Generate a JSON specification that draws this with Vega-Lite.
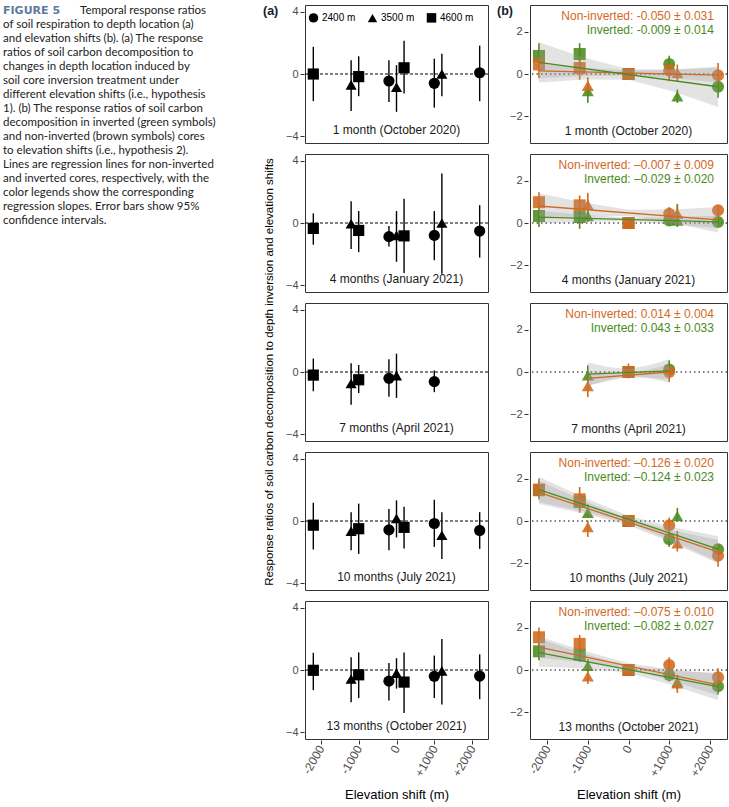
{
  "$schema": "https://vega.github.io/schema/vega-lite/v6.json",
  "padding": {"left": 3, "top": 4, "right": 0, "bottom": 0},
  "background": "white",
  "config": {
    "font": "Liberation Sans",
    "view": {"stroke": "#333333", "strokeWidth": 1},
    "axis": {"grid": false, "domain": false, "tickColor": "#333333", "tickSize": 4, "labelColor": "#4d4d4d", "labelFontSize": 11, "labelFont": "Liberation Sans", "titleFont": "Liberation Sans", "titleFontWeight": "normal", "titleColor": "black", "labelPadding": 2}
  },
  "spacing": 20,
  "hconcat": [
    {
      "width": 240,
      "height": 225,
      "view": {"stroke": null},
      "data": {"values": [{"fig": "FIGURE 5", "head": "Temporal response ratios", "body": ["of soil respiration to depth location (a)", "and elevation shifts (b). (a) The response", "ratios of soil carbon decomposition to", "changes in depth location induced by", "soil core inversion treatment under", "different elevation shifts (i.e., hypothesis", "1). (b) The response ratios of soil carbon", "decomposition in inverted (green symbols)", "and non-inverted (brown symbols) cores", "to elevation shifts (i.e., hypothesis 2).", "Lines are regression lines for non-inverted", "and inverted cores, respectively, with the", "color legends show the corresponding", "regression slopes. Error bars show 95%", "confidence intervals."]}]},
      "layer": [
        {
          "mark": {"type": "text", "align": "left", "baseline": "top", "font": "DejaVu Sans", "fontSize": 11, "fontWeight": "bold", "color": "#5b7b9b"},
          "encoding": {
            "x": {"datum": 0, "type": "quantitative", "scale": {"domain": [0, 1]}, "axis": null},
            "y": {"datum": 1, "type": "quantitative", "scale": {"domain": [0, 1]}, "axis": null},
            "text": {"field": "fig"}
          }
        },
        {
          "mark": {"type": "text", "align": "left", "baseline": "top", "font": "Lato", "fontSize": 11.5, "color": "#222222", "dx": 77},
          "encoding": {
            "x": {"datum": 0, "type": "quantitative"},
            "y": {"datum": 1, "type": "quantitative"},
            "text": {"field": "head"}
          }
        },
        {
          "mark": {"type": "text", "align": "left", "baseline": "top", "font": "Lato", "fontSize": 11.5, "color": "#222222", "dy": 14, "lineHeight": 14},
          "encoding": {
            "x": {"datum": 0, "type": "quantitative"},
            "y": {"datum": 1, "type": "quantitative"},
            "text": {"field": "body"}
          }
        }
      ]
    },
    {
      "spacing": 8,
      "resolve": {"scale": {"shape": "independent", "color": "independent"}, "legend": {"shape": "independent", "color": "independent"}},
      "hconcat": [
        {
          "data": {"values": [
            {"m": "1 month (October 2020)", "k": "label"},
            {"m": "4 months (January 2021)", "k": "label"},
            {"m": "7 months (April 2021)", "k": "label"},
            {"m": "10 months (July 2021)", "k": "label"},
            {"m": "13 months (October 2021)", "k": "label"},
            {"m": "1 month (October 2020)", "k": "p", "x": -2200, "e": "4600 m", "v": 0.0, "lo": -1.75, "hi": 1.75},
            {"m": "1 month (October 2020)", "k": "p", "x": -1200, "e": "3500 m", "v": -0.7, "lo": -2.38, "hi": 0.88},
            {"m": "1 month (October 2020)", "k": "p", "x": -1000, "e": "4600 m", "v": -0.17, "lo": -1.43, "hi": 1.14},
            {"m": "1 month (October 2020)", "k": "p", "x": -200, "e": "2400 m", "v": -0.45, "lo": -1.8, "hi": 0.88},
            {"m": "1 month (October 2020)", "k": "p", "x": 0, "e": "3500 m", "v": -0.85, "lo": -2.44, "hi": 0.57},
            {"m": "1 month (October 2020)", "k": "p", "x": 200, "e": "4600 m", "v": 0.4, "lo": -1.26, "hi": 2.15},
            {"m": "1 month (October 2020)", "k": "p", "x": 1000, "e": "2400 m", "v": -0.6, "lo": -2.17, "hi": 0.99},
            {"m": "1 month (October 2020)", "k": "p", "x": 1200, "e": "3500 m", "v": 0.0, "lo": -1.43, "hi": 1.3},
            {"m": "1 month (October 2020)", "k": "p", "x": 2200, "e": "2400 m", "v": 0.08, "lo": -1.75, "hi": 1.83},
            {"m": "4 months (January 2021)", "k": "p", "x": -2200, "e": "4600 m", "v": -0.35, "lo": -1.4, "hi": 0.62},
            {"m": "4 months (January 2021)", "k": "p", "x": -1200, "e": "3500 m", "v": -0.05, "lo": -1.67, "hi": 1.4},
            {"m": "4 months (January 2021)", "k": "p", "x": -1000, "e": "4600 m", "v": -0.48, "lo": -1.88, "hi": 0.77},
            {"m": "4 months (January 2021)", "k": "p", "x": -200, "e": "2400 m", "v": -0.88, "lo": -1.52, "hi": -0.2},
            {"m": "4 months (January 2021)", "k": "p", "x": 0, "e": "3500 m", "v": -0.8, "lo": -2.5, "hi": 0.77},
            {"m": "4 months (January 2021)", "k": "p", "x": 200, "e": "4600 m", "v": -0.83, "lo": -3.23, "hi": 1.56},
            {"m": "4 months (January 2021)", "k": "p", "x": 1000, "e": "2400 m", "v": -0.8, "lo": -2.4, "hi": 0.77},
            {"m": "4 months (January 2021)", "k": "p", "x": 1200, "e": "3500 m", "v": 0.0, "lo": -3.27, "hi": 3.19},
            {"m": "4 months (January 2021)", "k": "p", "x": 2200, "e": "2400 m", "v": -0.52, "lo": -2.23, "hi": 1.15},
            {"m": "7 months (April 2021)", "k": "p", "x": -2200, "e": "4600 m", "v": -0.2, "lo": -1.24, "hi": 0.87},
            {"m": "7 months (April 2021)", "k": "p", "x": -1200, "e": "3500 m", "v": -0.74, "lo": -2.12, "hi": 0.56},
            {"m": "7 months (April 2021)", "k": "p", "x": -1000, "e": "4600 m", "v": -0.5, "lo": -1.36, "hi": 0.45},
            {"m": "7 months (April 2021)", "k": "p", "x": -200, "e": "2400 m", "v": -0.41, "lo": -1.6, "hi": 0.82},
            {"m": "7 months (April 2021)", "k": "p", "x": 0, "e": "3500 m", "v": -0.23, "lo": -1.67, "hi": 1.18},
            {"m": "7 months (April 2021)", "k": "p", "x": 1000, "e": "2400 m", "v": -0.62, "lo": -1.3, "hi": 0.1},
            {"m": "10 months (July 2021)", "k": "p", "x": -2200, "e": "4600 m", "v": -0.27, "lo": -1.84, "hi": 1.18},
            {"m": "10 months (July 2021)", "k": "p", "x": -1200, "e": "3500 m", "v": -0.65, "lo": -1.88, "hi": 0.57},
            {"m": "10 months (July 2021)", "k": "p", "x": -1000, "e": "4600 m", "v": -0.5, "lo": -2.12, "hi": 1.12},
            {"m": "10 months (July 2021)", "k": "p", "x": -200, "e": "2400 m", "v": -0.57, "lo": -1.88, "hi": 0.78},
            {"m": "10 months (July 2021)", "k": "p", "x": 0, "e": "3500 m", "v": 0.16, "lo": -1.06, "hi": 1.33},
            {"m": "10 months (July 2021)", "k": "p", "x": 200, "e": "4600 m", "v": -0.41, "lo": -1.78, "hi": 0.92},
            {"m": "10 months (July 2021)", "k": "p", "x": 1000, "e": "2400 m", "v": -0.16, "lo": -1.67, "hi": 1.37},
            {"m": "10 months (July 2021)", "k": "p", "x": 1200, "e": "3500 m", "v": -0.92, "lo": -2.45, "hi": 0.57},
            {"m": "10 months (July 2021)", "k": "p", "x": 2200, "e": "2400 m", "v": -0.61, "lo": -1.8, "hi": 0.57},
            {"m": "13 months (October 2021)", "k": "p", "x": -2200, "e": "4600 m", "v": -0.02, "lo": -1.3, "hi": 1.11},
            {"m": "13 months (October 2021)", "k": "p", "x": -1200, "e": "3500 m", "v": -0.58, "lo": -2.08, "hi": 0.82},
            {"m": "13 months (October 2021)", "k": "p", "x": -1000, "e": "4600 m", "v": -0.31, "lo": -1.81, "hi": 1.13},
            {"m": "13 months (October 2021)", "k": "p", "x": -200, "e": "2400 m", "v": -0.72, "lo": -1.96, "hi": 0.45},
            {"m": "13 months (October 2021)", "k": "p", "x": 0, "e": "3500 m", "v": -0.2, "lo": -1.2, "hi": 0.76},
            {"m": "13 months (October 2021)", "k": "p", "x": 200, "e": "4600 m", "v": -0.78, "lo": -2.78, "hi": 1.13},
            {"m": "13 months (October 2021)", "k": "p", "x": 1000, "e": "2400 m", "v": -0.41, "lo": -1.81, "hi": 0.93},
            {"m": "13 months (October 2021)", "k": "p", "x": 1200, "e": "3500 m", "v": -0.06, "lo": -2.23, "hi": 2.0},
            {"m": "13 months (October 2021)", "k": "p", "x": 2200, "e": "2400 m", "v": -0.39, "lo": -1.88, "hi": 1.01}
          ]},
          "title": {"text": "(a)", "anchor": "start", "frame": "group", "offset": -13, "dx": -42, "fontSize": 12.5, "fontWeight": "bold", "color": "#1a1a2e"},
          "spacing": 9,
          "facet": {"row": {"field": "m", "type": "nominal", "sort": ["1 month (October 2020)", "4 months (January 2021)", "7 months (April 2021)", "10 months (July 2021)", "13 months (October 2021)"], "title": "Response ratios of soil carbon decomposition to depth inversion and elevation shifts", "header": {"labels": false, "labelPadding": 0, "titleFont": "Liberation Sans", "titleFontSize": 11.5, "titleFontWeight": "normal", "titleColor": "black", "titlePadding": 0}}},
          "spec": {
            "width": 183,
            "height": 138,
            "layer": [
              {
                "transform": [{"filter": "datum.k == 'label'"}],
                "mark": {"type": "rule", "color": "black", "strokeWidth": 1, "strokeDash": [3, 2]},
                "encoding": {"y": {"datum": 0, "type": "quantitative", "scale": {"domain": [-4.45, 4.45], "nice": false, "zero": false}}}
              },
              {
                "transform": [{"filter": "datum.k == 'p'"}],
                "mark": {"type": "rule", "color": "black", "strokeWidth": 1.4},
                "encoding": {
                  "x": {"field": "x", "type": "quantitative", "scale": {"domain": [-2420, 2420], "nice": false, "zero": false}, "axis": {"values": [-2000, -1000, 0, 1000, 2000], "labelExpr": "datum.value > 0 ? '+' + datum.value : '' + datum.value", "labelAngle": -60, "labelAlign": "right", "labelBaseline": "middle", "labelFontSize": 12, "title": "Elevation shift (m)", "titleFontSize": 13, "titlePadding": 10}},
                  "y": {"field": "lo", "type": "quantitative", "axis": {"values": [-4, -2, 0, 2, 4], "title": null}},
                  "y2": {"field": "hi"}
                }
              },
              {
                "transform": [{"filter": "datum.k == 'p'"}],
                "mark": {"type": "point", "filled": true, "size": 125, "color": "black", "opacity": 1},
                "encoding": {
                  "x": {"field": "x", "type": "quantitative"},
                  "y": {"field": "v", "type": "quantitative", "axis": {"title": null}},
                  "shape": {"field": "e", "type": "nominal", "scale": {"domain": ["2400 m", "3500 m", "4600 m"], "range": ["circle", "triangle-up", "square"]}, "legend": {"orient": "none", "legendX": 3, "legendY": 7, "direction": "horizontal", "title": null, "labelFontSize": 10, "labelColor": "black", "labelFont": "Liberation Sans", "symbolFillColor": "black", "symbolStrokeColor": "black", "symbolSize": 90, "columnPadding": 8, "labelOffset": 3, "padding": 0}}
                }
              },
              {
                "transform": [{"filter": "datum.k == 'label'"}],
                "mark": {"type": "text", "fontSize": 12, "color": "#1a1a1a", "baseline": "middle"},
                "encoding": {
                  "x": {"datum": 0, "type": "quantitative"},
                  "y": {"datum": -3.6, "type": "quantitative"},
                  "text": {"field": "m"}
                }
              }
            ]
          }
        },
        {
          "data": {"values": [
            {"m": "1 month (October 2020)", "k": "label"},
            {"m": "4 months (January 2021)", "k": "label"},
            {"m": "7 months (April 2021)", "k": "label"},
            {"m": "10 months (July 2021)", "k": "label"},
            {"m": "13 months (October 2021)", "k": "label"},
            {"m": "1 month (October 2020)", "k": "s", "t": "N", "s": "Non-inverted: -0.050 ± 0.031"},
            {"m": "1 month (October 2020)", "k": "s", "t": "I", "s": "Inverted: -0.009 ± 0.014"},
            {"m": "4 months (January 2021)", "k": "s", "t": "N", "s": "Non-inverted: –0.007 ± 0.009"},
            {"m": "4 months (January 2021)", "k": "s", "t": "I", "s": "Inverted: –0.029 ± 0.020"},
            {"m": "7 months (April 2021)", "k": "s", "t": "N", "s": "Non-inverted: 0.014 ± 0.004"},
            {"m": "7 months (April 2021)", "k": "s", "t": "I", "s": "Inverted: 0.043 ± 0.033"},
            {"m": "10 months (July 2021)", "k": "s", "t": "N", "s": "Non-inverted: –0.126 ± 0.020"},
            {"m": "10 months (July 2021)", "k": "s", "t": "I", "s": "Inverted: –0.124 ± 0.023"},
            {"m": "13 months (October 2021)", "k": "s", "t": "N", "s": "Non-inverted: –0.075 ± 0.010"},
            {"m": "13 months (October 2021)", "k": "s", "t": "I", "s": "Inverted: –0.082 ± 0.027"},

            {"m": "1 month (October 2020)", "k": "p", "t": "I", "x": -2200, "e": "4600 m", "v": 0.85, "lo": 0.2, "hi": 1.45},
            {"m": "1 month (October 2020)", "k": "p", "t": "I", "x": -1200, "e": "4600 m", "v": 0.94, "lo": 0.44, "hi": 1.45},
            {"m": "1 month (October 2020)", "k": "p", "t": "I", "x": -1000, "e": "3500 m", "v": -0.8, "lo": -1.36, "hi": -0.42},
            {"m": "1 month (October 2020)", "k": "p", "t": "I", "x": 0, "e": "4600 m", "v": 0, "lo": -0.15, "hi": 0.15},
            {"m": "1 month (October 2020)", "k": "p", "t": "I", "x": 0, "e": "3500 m", "v": 0, "lo": -0.15, "hi": 0.15},
            {"m": "1 month (October 2020)", "k": "p", "t": "I", "x": 1000, "e": "2400 m", "v": 0.47, "lo": 0.05, "hi": 0.86},
            {"m": "1 month (October 2020)", "k": "p", "t": "I", "x": 1200, "e": "3500 m", "v": -1.05, "lo": -1.36, "hi": -0.73},
            {"m": "1 month (October 2020)", "k": "p", "t": "I", "x": 2200, "e": "2400 m", "v": -0.6, "lo": -1.12, "hi": -0.22},
            {"m": "1 month (October 2020)", "k": "p", "t": "N", "x": -2200, "e": "4600 m", "v": 0.45, "lo": -0.2, "hi": 1.1},
            {"m": "1 month (October 2020)", "k": "p", "t": "N", "x": -1200, "e": "4600 m", "v": 0.28, "lo": -0.27, "hi": 0.9},
            {"m": "1 month (October 2020)", "k": "p", "t": "N", "x": -1000, "e": "3500 m", "v": -0.55, "lo": -1.05, "hi": -0.15},
            {"m": "1 month (October 2020)", "k": "p", "t": "N", "x": 0, "e": "4600 m", "v": 0, "lo": -0.2, "hi": 0.2},
            {"m": "1 month (October 2020)", "k": "p", "t": "N", "x": 0, "e": "3500 m", "v": 0, "lo": -0.2, "hi": 0.2},
            {"m": "1 month (October 2020)", "k": "p", "t": "N", "x": 1000, "e": "2400 m", "v": 0.17, "lo": -0.34, "hi": 0.75},
            {"m": "1 month (October 2020)", "k": "p", "t": "N", "x": 1200, "e": "3500 m", "v": 0.05, "lo": -0.34, "hi": 0.44},
            {"m": "1 month (October 2020)", "k": "p", "t": "N", "x": 2200, "e": "2400 m", "v": -0.06, "lo": -0.5, "hi": 0.52},

            {"m": "4 months (January 2021)", "k": "p", "t": "I", "x": -2200, "e": "4600 m", "v": 0.33, "lo": -0.19, "hi": 0.67},
            {"m": "4 months (January 2021)", "k": "p", "t": "I", "x": -1200, "e": "4600 m", "v": 0.28, "lo": -0.27, "hi": 0.75},
            {"m": "4 months (January 2021)", "k": "p", "t": "I", "x": -1000, "e": "3500 m", "v": 0.33, "lo": 0.05, "hi": 0.67},
            {"m": "4 months (January 2021)", "k": "p", "t": "I", "x": 0, "e": "4600 m", "v": 0, "lo": -0.15, "hi": 0.15},
            {"m": "4 months (January 2021)", "k": "p", "t": "I", "x": 0, "e": "3500 m", "v": 0, "lo": -0.15, "hi": 0.15},
            {"m": "4 months (January 2021)", "k": "p", "t": "I", "x": 1000, "e": "2400 m", "v": 0.12, "lo": -0.11, "hi": 0.36},
            {"m": "4 months (January 2021)", "k": "p", "t": "I", "x": 1200, "e": "3500 m", "v": 0.12, "lo": -0.19, "hi": 0.9},
            {"m": "4 months (January 2021)", "k": "p", "t": "I", "x": 2200, "e": "2400 m", "v": 0.05, "lo": -0.19, "hi": 0.23},
            {"m": "4 months (January 2021)", "k": "p", "t": "N", "x": -2200, "e": "4600 m", "v": 0.98, "lo": 0.44, "hi": 1.45},
            {"m": "4 months (January 2021)", "k": "p", "t": "N", "x": -1200, "e": "4600 m", "v": 0.83, "lo": 0.28, "hi": 1.3},
            {"m": "4 months (January 2021)", "k": "p", "t": "N", "x": -1000, "e": "3500 m", "v": 0.86, "lo": 0.28, "hi": 1.42},
            {"m": "4 months (January 2021)", "k": "p", "t": "N", "x": 0, "e": "4600 m", "v": 0, "lo": -0.15, "hi": 0.15},
            {"m": "4 months (January 2021)", "k": "p", "t": "N", "x": 0, "e": "3500 m", "v": 0, "lo": -0.15, "hi": 0.15},
            {"m": "4 months (January 2021)", "k": "p", "t": "N", "x": 1000, "e": "2400 m", "v": 0.44, "lo": 0.05, "hi": 0.75},
            {"m": "4 months (January 2021)", "k": "p", "t": "N", "x": 1200, "e": "3500 m", "v": 0.44, "lo": -0.03, "hi": 0.83},
            {"m": "4 months (January 2021)", "k": "p", "t": "N", "x": 2200, "e": "2400 m", "v": 0.6, "lo": 0.28, "hi": 0.83},

            {"m": "7 months (April 2021)", "k": "p", "t": "I", "x": -1000, "e": "3500 m", "v": -0.16, "lo": -0.5, "hi": 0.31},
            {"m": "7 months (April 2021)", "k": "p", "t": "I", "x": 0, "e": "4600 m", "v": 0, "lo": -0.2, "hi": 0.2},
            {"m": "7 months (April 2021)", "k": "p", "t": "I", "x": 1000, "e": "2400 m", "v": 0.12, "lo": -0.31, "hi": 0.55},
            {"m": "7 months (April 2021)", "k": "p", "t": "N", "x": -1000, "e": "3500 m", "v": -0.66, "lo": -1.18, "hi": -0.31},
            {"m": "7 months (April 2021)", "k": "p", "t": "N", "x": 0, "e": "4600 m", "v": 0, "lo": -0.3, "hi": 0.4},
            {"m": "7 months (April 2021)", "k": "p", "t": "N", "x": 1000, "e": "2400 m", "v": 0.0, "lo": -0.47, "hi": 0.39},

            {"m": "10 months (July 2021)", "k": "p", "t": "I", "x": -2200, "e": "4600 m", "v": 1.45, "lo": 1.17, "hi": 1.88},
            {"m": "10 months (July 2021)", "k": "p", "t": "I", "x": -1200, "e": "4600 m", "v": 0.9, "lo": 0.5, "hi": 1.3},
            {"m": "10 months (July 2021)", "k": "p", "t": "I", "x": -1000, "e": "3500 m", "v": 0.39, "lo": 0.16, "hi": 0.78},
            {"m": "10 months (July 2021)", "k": "p", "t": "I", "x": 0, "e": "4600 m", "v": 0, "lo": -0.15, "hi": 0.15},
            {"m": "10 months (July 2021)", "k": "p", "t": "I", "x": 0, "e": "3500 m", "v": 0, "lo": -0.15, "hi": 0.15},
            {"m": "10 months (July 2021)", "k": "p", "t": "I", "x": 1000, "e": "2400 m", "v": -0.86, "lo": -1.22, "hi": -0.5},
            {"m": "10 months (July 2021)", "k": "p", "t": "I", "x": 1200, "e": "3500 m", "v": 0.23, "lo": -0.03, "hi": 0.62},
            {"m": "10 months (July 2021)", "k": "p", "t": "I", "x": 2200, "e": "2400 m", "v": -1.33, "lo": -1.56, "hi": -1.1},
            {"m": "10 months (July 2021)", "k": "p", "t": "N", "x": -2200, "e": "4600 m", "v": 1.48, "lo": 1.02, "hi": 2.0},
            {"m": "10 months (July 2021)", "k": "p", "t": "N", "x": -1200, "e": "4600 m", "v": 1.02, "lo": 0.39, "hi": 1.6},
            {"m": "10 months (July 2021)", "k": "p", "t": "N", "x": -1000, "e": "3500 m", "v": -0.28, "lo": -0.75, "hi": 0.03},
            {"m": "10 months (July 2021)", "k": "p", "t": "N", "x": 0, "e": "4600 m", "v": 0, "lo": -0.2, "hi": 0.2},
            {"m": "10 months (July 2021)", "k": "p", "t": "N", "x": 0, "e": "3500 m", "v": 0, "lo": -0.2, "hi": 0.2},
            {"m": "10 months (July 2021)", "k": "p", "t": "N", "x": 1000, "e": "2400 m", "v": -0.2, "lo": -0.55, "hi": 0.16},
            {"m": "10 months (July 2021)", "k": "p", "t": "N", "x": 1200, "e": "3500 m", "v": -1.05, "lo": -1.44, "hi": -0.47},
            {"m": "10 months (July 2021)", "k": "p", "t": "N", "x": 2200, "e": "2400 m", "v": -1.64, "lo": -2.16, "hi": -1.22},

            {"m": "13 months (October 2021)", "k": "p", "t": "I", "x": -2200, "e": "4600 m", "v": 0.88, "lo": 0.46, "hi": 1.23},
            {"m": "13 months (October 2021)", "k": "p", "t": "I", "x": -1200, "e": "4600 m", "v": 0.72, "lo": 0.38, "hi": 1.15},
            {"m": "13 months (October 2021)", "k": "p", "t": "I", "x": -1000, "e": "3500 m", "v": 0.2, "lo": -0.1, "hi": 0.5},
            {"m": "13 months (October 2021)", "k": "p", "t": "I", "x": 0, "e": "4600 m", "v": 0, "lo": -0.15, "hi": 0.15},
            {"m": "13 months (October 2021)", "k": "p", "t": "I", "x": 0, "e": "3500 m", "v": 0, "lo": -0.15, "hi": 0.15},
            {"m": "13 months (October 2021)", "k": "p", "t": "I", "x": 1000, "e": "2400 m", "v": -0.23, "lo": -0.54, "hi": 0.08},
            {"m": "13 months (October 2021)", "k": "p", "t": "I", "x": 1200, "e": "3500 m", "v": -0.57, "lo": -0.92, "hi": -0.23},
            {"m": "13 months (October 2021)", "k": "p", "t": "I", "x": 2200, "e": "2400 m", "v": -0.77, "lo": -1.15, "hi": -0.5},
            {"m": "13 months (October 2021)", "k": "p", "t": "N", "x": -2200, "e": "4600 m", "v": 1.54, "lo": 1.08, "hi": 2.0},
            {"m": "13 months (October 2021)", "k": "p", "t": "N", "x": -1200, "e": "4600 m", "v": 1.23, "lo": 0.77, "hi": 1.65},
            {"m": "13 months (October 2021)", "k": "p", "t": "N", "x": -1000, "e": "3500 m", "v": -0.3, "lo": -0.66, "hi": 0.0},
            {"m": "13 months (October 2021)", "k": "p", "t": "N", "x": 0, "e": "4600 m", "v": 0, "lo": -0.15, "hi": 0.15},
            {"m": "13 months (October 2021)", "k": "p", "t": "N", "x": 0, "e": "3500 m", "v": 0, "lo": -0.15, "hi": 0.15},
            {"m": "13 months (October 2021)", "k": "p", "t": "N", "x": 1000, "e": "2400 m", "v": 0.23, "lo": -0.15, "hi": 0.6},
            {"m": "13 months (October 2021)", "k": "p", "t": "N", "x": 1200, "e": "3500 m", "v": -0.62, "lo": -1.08, "hi": -0.31},
            {"m": "13 months (October 2021)", "k": "p", "t": "N", "x": 2200, "e": "2400 m", "v": -0.34, "lo": -0.77, "hi": 0.08},

            {"m": "1 month (October 2020)", "k": "b", "t": "I", "x": -2200, "lo": -0.4, "hi": 1.5},
            {"m": "1 month (October 2020)", "k": "b", "t": "I", "x": -1100, "lo": -0.26, "hi": 0.78},
            {"m": "1 month (October 2020)", "k": "b", "t": "I", "x": 0, "lo": -0.275, "hi": 0.225},
            {"m": "1 month (October 2020)", "k": "b", "t": "I", "x": 1100, "lo": -0.83, "hi": 0.21},
            {"m": "1 month (October 2020)", "k": "b", "t": "I", "x": 2200, "lo": -1.55, "hi": 0.35},
            {"m": "1 month (October 2020)", "k": "b", "t": "N", "x": -2200, "lo": -0.2, "hi": 0.5},
            {"m": "1 month (October 2020)", "k": "b", "t": "N", "x": -1100, "lo": -0.1, "hi": 0.3},
            {"m": "1 month (October 2020)", "k": "b", "t": "N", "x": 0, "lo": -0.07, "hi": 0.17},
            {"m": "1 month (October 2020)", "k": "b", "t": "N", "x": 1100, "lo": -0.2, "hi": 0.2},
            {"m": "1 month (October 2020)", "k": "b", "t": "N", "x": 2200, "lo": -0.4, "hi": 0.3},
            {"m": "4 months (January 2021)", "k": "b", "t": "N", "x": -2200, "lo": 0.2, "hi": 1.4},
            {"m": "4 months (January 2021)", "k": "b", "t": "N", "x": -1100, "lo": 0.31, "hi": 0.96},
            {"m": "4 months (January 2021)", "k": "b", "t": "N", "x": 0, "lo": 0.325, "hi": 0.625},
            {"m": "4 months (January 2021)", "k": "b", "t": "N", "x": 1100, "lo": -0.015, "hi": 0.64},
            {"m": "4 months (January 2021)", "k": "b", "t": "N", "x": 2200, "lo": -0.45, "hi": 0.75},
            {"m": "4 months (January 2021)", "k": "b", "t": "I", "x": -2200, "lo": -0.02, "hi": 0.58},
            {"m": "4 months (January 2021)", "k": "b", "t": "I", "x": -1100, "lo": 0.06, "hi": 0.39},
            {"m": "4 months (January 2021)", "k": "b", "t": "I", "x": 0, "lo": 0.085, "hi": 0.245},
            {"m": "4 months (January 2021)", "k": "b", "t": "I", "x": 1100, "lo": -0.06, "hi": 0.27},
            {"m": "4 months (January 2021)", "k": "b", "t": "I", "x": 2200, "lo": -0.25, "hi": 0.35},
            {"m": "7 months (April 2021)", "k": "b", "t": "N", "x": -1000, "lo": -0.65, "hi": 0.05},
            {"m": "7 months (April 2021)", "k": "b", "t": "N", "x": -500, "lo": -0.42, "hi": -0.03},
            {"m": "7 months (April 2021)", "k": "b", "t": "N", "x": 0, "lo": -0.25, "hi": -0.05},
            {"m": "7 months (April 2021)", "k": "b", "t": "N", "x": 500, "lo": -0.27, "hi": 0.12},
            {"m": "7 months (April 2021)", "k": "b", "t": "N", "x": 1000, "lo": -0.35, "hi": 0.35},
            {"m": "7 months (April 2021)", "k": "b", "t": "I", "x": -1000, "lo": -0.65, "hi": 0.45},
            {"m": "7 months (April 2021)", "k": "b", "t": "I", "x": -500, "lo": -0.37, "hi": 0.24},
            {"m": "7 months (April 2021)", "k": "b", "t": "I", "x": 0, "lo": -0.175, "hi": 0.125},
            {"m": "7 months (April 2021)", "k": "b", "t": "I", "x": 500, "lo": -0.29, "hi": 0.32},
            {"m": "7 months (April 2021)", "k": "b", "t": "I", "x": 1000, "lo": -0.5, "hi": 0.6},
            {"m": "10 months (July 2021)", "k": "b", "t": "N", "x": -2200, "lo": 0.8, "hi": 1.9},
            {"m": "10 months (July 2021)", "k": "b", "t": "N", "x": -1100, "lo": 0.35, "hi": 0.95},
            {"m": "10 months (July 2021)", "k": "b", "t": "N", "x": 0, "lo": -0.2, "hi": 0.1},
            {"m": "10 months (July 2021)", "k": "b", "t": "N", "x": 1100, "lo": -1.05, "hi": -0.45},
            {"m": "10 months (July 2021)", "k": "b", "t": "N", "x": 2200, "lo": -2.0, "hi": -0.9},
            {"m": "10 months (July 2021)", "k": "b", "t": "I", "x": -2200, "lo": 0.88, "hi": 2.08},
            {"m": "10 months (July 2021)", "k": "b", "t": "I", "x": -1100, "lo": 0.45, "hi": 1.11},
            {"m": "10 months (July 2021)", "k": "b", "t": "I", "x": 0, "lo": -0.09, "hi": 0.25},
            {"m": "10 months (July 2021)", "k": "b", "t": "I", "x": 1100, "lo": -0.95, "hi": -0.29},
            {"m": "10 months (July 2021)", "k": "b", "t": "I", "x": 2200, "lo": -1.92, "hi": -0.72},
            {"m": "13 months (October 2021)", "k": "b", "t": "N", "x": -2200, "lo": 0.58, "hi": 1.58},
            {"m": "13 months (October 2021)", "k": "b", "t": "N", "x": -1100, "lo": 0.36, "hi": 0.91},
            {"m": "13 months (October 2021)", "k": "b", "t": "N", "x": 0, "lo": 0.06, "hi": 0.32},
            {"m": "13 months (October 2021)", "k": "b", "t": "N", "x": 1100, "lo": -0.53, "hi": 0.02},
            {"m": "13 months (October 2021)", "k": "b", "t": "N", "x": 2200, "lo": -1.2, "hi": -0.2},
            {"m": "13 months (October 2021)", "k": "b", "t": "I", "x": -2200, "lo": 0.17, "hi": 1.47},
            {"m": "13 months (October 2021)", "k": "b", "t": "I", "x": -1100, "lo": 0.07, "hi": 0.77},
            {"m": "13 months (October 2021)", "k": "b", "t": "I", "x": 0, "lo": -0.13, "hi": 0.17},
            {"m": "13 months (October 2021)", "k": "b", "t": "I", "x": 1100, "lo": -0.73, "hi": -0.03},
            {"m": "13 months (October 2021)", "k": "b", "t": "I", "x": 2200, "lo": -1.43, "hi": -0.13},

            {"m": "1 month (October 2020)", "k": "l", "t": "N", "x": -2200, "v": 0.15},
            {"m": "1 month (October 2020)", "k": "l", "t": "N", "x": 2200, "v": -0.05},
            {"m": "1 month (October 2020)", "k": "l", "t": "I", "x": -2200, "v": 0.55},
            {"m": "1 month (October 2020)", "k": "l", "t": "I", "x": 2200, "v": -0.6},
            {"m": "4 months (January 2021)", "k": "l", "t": "N", "x": -2200, "v": 0.8},
            {"m": "4 months (January 2021)", "k": "l", "t": "N", "x": 2200, "v": 0.15},
            {"m": "4 months (January 2021)", "k": "l", "t": "I", "x": -2200, "v": 0.28},
            {"m": "4 months (January 2021)", "k": "l", "t": "I", "x": 2200, "v": 0.05},
            {"m": "7 months (April 2021)", "k": "l", "t": "N", "x": -1000, "v": -0.3},
            {"m": "7 months (April 2021)", "k": "l", "t": "N", "x": 1000, "v": 0.0},
            {"m": "7 months (April 2021)", "k": "l", "t": "I", "x": -1000, "v": -0.1},
            {"m": "7 months (April 2021)", "k": "l", "t": "I", "x": 1000, "v": 0.05},
            {"m": "10 months (July 2021)", "k": "l", "t": "N", "x": -2200, "v": 1.35},
            {"m": "10 months (July 2021)", "k": "l", "t": "N", "x": 2200, "v": -1.45},
            {"m": "10 months (July 2021)", "k": "l", "t": "I", "x": -2200, "v": 1.48},
            {"m": "10 months (July 2021)", "k": "l", "t": "I", "x": 2200, "v": -1.32},
            {"m": "13 months (October 2021)", "k": "l", "t": "N", "x": -2200, "v": 1.08},
            {"m": "13 months (October 2021)", "k": "l", "t": "N", "x": 2200, "v": -0.7},
            {"m": "13 months (October 2021)", "k": "l", "t": "I", "x": -2200, "v": 0.82},
            {"m": "13 months (October 2021)", "k": "l", "t": "I", "x": 2200, "v": -0.78}
          ]},
          "title": {"text": "(b)", "anchor": "start", "frame": "group", "offset": -13, "dx": -33, "fontSize": 12.5, "fontWeight": "bold", "color": "#1a1a2e"},
          "spacing": 9,
          "facet": {"row": {"field": "m", "type": "nominal", "sort": ["1 month (October 2020)", "4 months (January 2021)", "7 months (April 2021)", "10 months (July 2021)", "13 months (October 2021)"], "title": null, "header": {"labels": false, "labelPadding": 0}}},
          "spec": {
            "width": 197,
            "height": 138,
            "layer": [
              {
                "transform": [{"filter": "datum.k == 'label'"}],
                "mark": {"type": "rule", "color": "black", "strokeWidth": 1.1, "strokeDash": [1.5, 3]},
                "encoding": {"y": {"datum": 0, "type": "quantitative", "scale": {"domain": [-3.25, 3.25], "nice": false, "zero": false}}}
              },
              {
                "transform": [{"filter": "datum.k == 'p'"}],
                "mark": {"type": "rule", "strokeWidth": 1.6},
                "encoding": {
                  "x": {"field": "x", "type": "quantitative", "scale": {"domain": [-2420, 2420], "nice": false, "zero": false}, "axis": {"values": [-2000, -1000, 0, 1000, 2000], "labelExpr": "datum.value > 0 ? '+' + datum.value : '' + datum.value", "labelAngle": -60, "labelAlign": "right", "labelBaseline": "middle", "labelFontSize": 12, "title": "Elevation shift (m)", "titleFontSize": 13, "titlePadding": 10}},
                  "y": {"field": "lo", "type": "quantitative", "axis": {"values": [-2, 0, 2], "title": null}},
                  "y2": {"field": "hi"},
                  "color": {"field": "t", "type": "nominal", "scale": {"domain": ["N", "I"], "range": ["#D2691E", "#4B8B1B"]}, "legend": null}
                }
              },
              {
                "transform": [{"filter": "datum.k == 'p'"}],
                "mark": {"type": "point", "filled": true, "size": 145, "opacity": 0.88},
                "encoding": {
                  "x": {"field": "x", "type": "quantitative"},
                  "y": {"field": "v", "type": "quantitative", "axis": {"title": null}},
                  "color": {"field": "t", "type": "nominal", "legend": null},
                  "shape": {"field": "e", "type": "nominal", "scale": {"domain": ["2400 m", "3500 m", "4600 m"], "range": ["circle", "triangle-up", "square"]}, "legend": null}
                }
              },
              {
                "transform": [{"filter": "datum.k == 'b'"}],
                "mark": {"type": "area", "color": "#999999", "opacity": 0.28},
                "encoding": {
                  "x": {"field": "x", "type": "quantitative"},
                  "y": {"field": "lo", "type": "quantitative", "axis": {"title": null}},
                  "y2": {"field": "hi"},
                  "detail": {"field": "t"}
                }
              },
              {
                "transform": [{"filter": "datum.k == 'l'"}],
                "mark": {"type": "line", "strokeWidth": 1.3},
                "encoding": {
                  "x": {"field": "x", "type": "quantitative"},
                  "y": {"field": "v", "type": "quantitative", "axis": {"title": null}},
                  "color": {"field": "t", "type": "nominal", "legend": null}
                }
              },
              {
                "transform": [{"filter": "datum.k == 'label'"}],
                "mark": {"type": "text", "fontSize": 12, "color": "#1a1a1a", "baseline": "middle"},
                "encoding": {
                  "x": {"datum": 0, "type": "quantitative"},
                  "y": {"datum": -2.7, "type": "quantitative"},
                  "text": {"field": "m"}
                }
              },
              {
                "transform": [{"filter": "datum.k == 's' && datum.t == 'N'"}],
                "mark": {"type": "text", "fontSize": 12, "align": "right", "baseline": "middle"},
                "encoding": {
                  "x": {"datum": 2100, "type": "quantitative"},
                  "y": {"datum": 2.75, "type": "quantitative"},
                  "text": {"field": "s"},
                  "color": {"field": "t", "type": "nominal", "legend": null}
                }
              },
              {
                "transform": [{"filter": "datum.k == 's' && datum.t == 'I'"}],
                "mark": {"type": "text", "fontSize": 12, "align": "right", "baseline": "middle"},
                "encoding": {
                  "x": {"datum": 2100, "type": "quantitative"},
                  "y": {"datum": 2.05, "type": "quantitative"},
                  "text": {"field": "s"},
                  "color": {"field": "t", "type": "nominal", "legend": null}
                }
              }
            ]
          }
        }
      ]
    }
  ]
}
